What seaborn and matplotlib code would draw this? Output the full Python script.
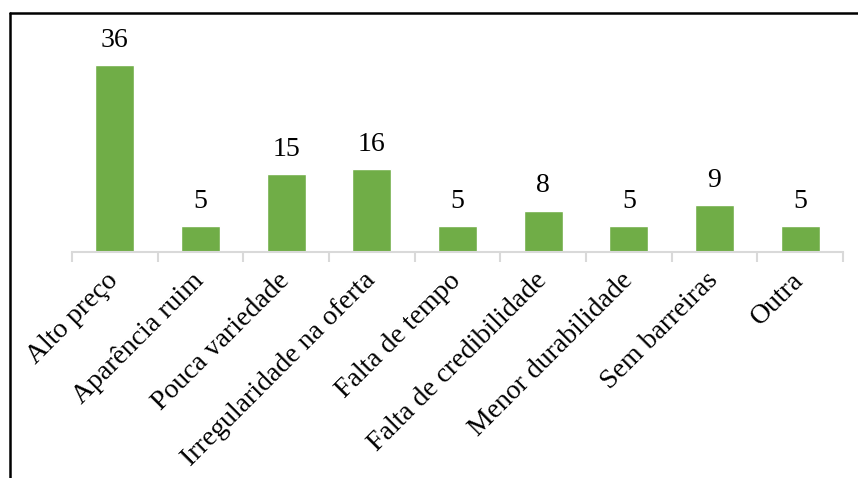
import os
import matplotlib
matplotlib.use("Agg")
import matplotlib.pyplot as plt
from matplotlib import font_manager as fm
import seaborn as sns
import pandas as pd
import numpy as np
from matplotlib.lines import Line2D

categories = ["Alto preço", "Aparência ruim", "Pouca variedade", "Irregularidade na oferta",
              "Falta de tempo", "Falta de credibilidade", "Menor durabilidade",
              "Sem barreiras", "Outra"]
values = [36, 5, 15, 16, 5, 8, 5, 9, 5]

sns.set_theme(style="white")
cands = ["/usr/share/fonts/truetype/liberation/LiberationSerif-Regular.ttf",
         "/usr/share/texmf/fonts/opentype/public/tex-gyre/texgyretermes-regular.otf"]
fp = None
for c in cands:
    if os.path.exists(c):
        fp = fm.FontProperties(fname=c, size=20)
        break
if fp is None:
    fp = fm.FontProperties(family="serif", size=20)
plt.rcParams['font.family'] = ['Liberation Serif', 'DejaVu Serif']

df = pd.DataFrame({"cat": categories, "val": values})

fig = plt.figure(figsize=(8.58, 4.78), dpi=100)
ax = fig.add_axes([0.0839, 0.4728, 0.8986, 0.434])
sns.barplot(data=df, x="cat", y="val", color="#70AD47", width=0.455, saturation=1, ax=ax)

ax.set_ylim(0, 40)
ax.set_xlim(-0.5, len(categories) - 0.5)
ax.set_xlabel("")
ax.set_ylabel("")
ax.set_yticks([])
for s in ["top", "right", "left"]:
    ax.spines[s].set_visible(False)
ax.spines["bottom"].set_color("#D9D9D9")
ax.spines["bottom"].set_linewidth(1.5)

ax.set_xticks(range(len(categories)))
ax.set_xticklabels(categories, rotation=45, ha="right", va="center", rotation_mode="anchor",
                   color="black", fontproperties=fp)
ax.set_xticks(np.arange(-0.5, len(categories), 1.0), minor=True)
ax.tick_params(axis="x", which="minor", bottom=True, length=7, width=1.5, color="#D9D9D9",
               direction="out")
ax.tick_params(axis="x", which="major", bottom=False, length=0, pad=18)

for p, v in zip(ax.patches, values):
    ax.annotate(str(v), (p.get_x() + p.get_width() / 2, p.get_height()),
                xytext=(0, 9), textcoords="offset points", ha="center", va="bottom",
                color="black", annotation_clip=False, fontproperties=fp)

fig.add_artist(Line2D([10 / 858, 1.0], [1 - 12.5 / 478, 1 - 12.5 / 478], color="black", lw=1.8,
                      transform=fig.transFigure))
fig.add_artist(Line2D([10 / 858, 10 / 858], [0, 1 - 12.5 / 478], color="black", lw=1.8,
                      transform=fig.transFigure))

fig.savefig("out.png", dpi=100, facecolor="white")
